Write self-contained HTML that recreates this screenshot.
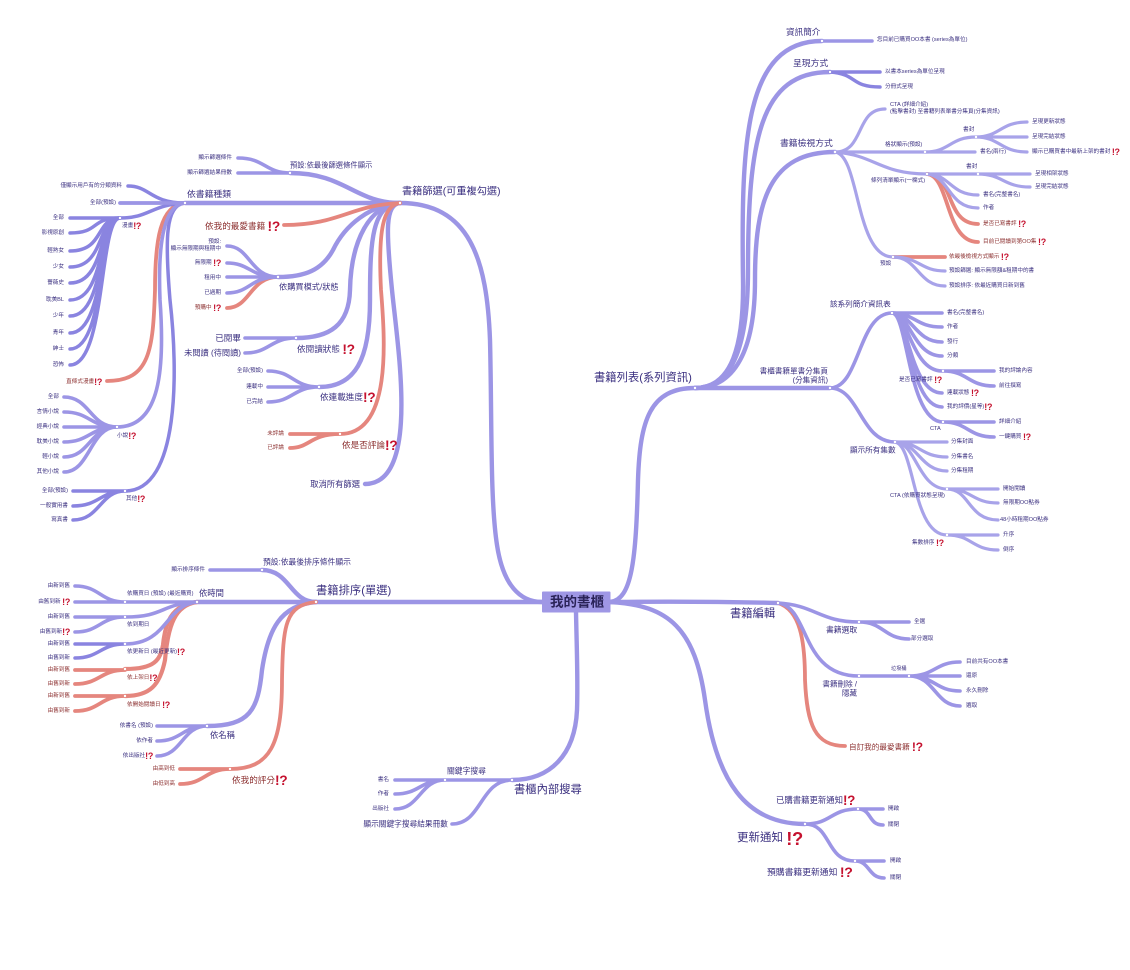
<!DOCTYPE html>
<html><head><meta charset="utf-8"><style>
html,body{margin:0;padding:0;background:#fff;width:1130px;height:970px;overflow:hidden}
svg{display:block;filter:blur(0.35px)}
text{font-family:"Liberation Sans","Noto Sans CJK TC",sans-serif;fill:#3b3080;dominant-baseline:central}
.a{font-size:5.6px}.b{font-size:7.6px}.c{font-size:8.6px}.d{font-size:11.3px}
.e{text-anchor:end}
.r{fill:#8c3030}
.q{fill:#c5122f;font-weight:bold;font-size:160%;letter-spacing:-0.3px}
path{fill:none;stroke-linecap:round}
.m path{stroke:#9c95e5;stroke-width:4.4}
.n path{stroke:#9c95e5;stroke-width:3.6}
.l path{stroke:#a8a3e9;stroke-width:3.2}
.k path{stroke:#8a84e0;stroke-width:3.5}
.x path{stroke:#e5867e;stroke-width:3.8}
circle{fill:#fff}
</style></head><body>
<svg width="1130" height="970" viewBox="0 0 1130 970" xmlns="http://www.w3.org/2000/svg">
<rect width="1130" height="970" fill="#fff"/>
<g class="m">
<path d="M400 203C470 203 487 260 490 340C492 420 490 500 497 545C503 585 520 602 542 602"/>
<path d="M316 602H542"/>
<path d="M610 602C632 600 636 560 638 480C640 420 650 388 695 388"/>
<path d="M610 602Q700 601 778 603"/>
<path d="M610 602C670 605 695 630 705 700C716 780 745 824 805 824"/>
<path d="M576 612C577 660 578 680 577 710C575 755 550 780 512 780"/>
<path d="M695 388C732 388 744 345 743 280C741 140 745 41 822 41"/>
<path d="M695 388C735 388 748 340 748 270C748 140 760 72 830 72"/>
<path d="M695 388C735 388 755 350 755 280C755 200 770 152 835 152"/>
<path d="M695 388H830"/>
<path d="M400 203C355 203 345 173 290 173"/>
<path d="M400 203H185"/>
<path d="M400 203C370 205 345 225 333 250C322 270 305 277 278 277"/>
<path d="M400 203C370 205 351 240 350 290C349 325 330 338 296 338"/>
<path d="M400 203C372 205 370 240 370 300C370 360 355 387 319 387"/>
<path d="M400 203C385 205 386 230 392 290C398 350 420 484 365 484"/>
<path d="M316 602C290 602 290 570 262 570"/>
<path d="M316 602H197"/>
<path d="M316 602C280 605 268 630 262 670C258 710 250 726 207 726"/>
</g>
<g class="x">
<path d="M400 203C350 205 340 225 284 225"/>
<path d="M400 203C383 205 378 230 381 290C385 340 392 434 340 434"/>
<path d="M185 203C160 205 155 240 155 290C153 350 150 381 107 381"/>
<path d="M316 602C285 605 283 625 282 680C282 745 270 769 230 769"/>
<path d="M197 602C170 605 165 625 163 645C160 660 155 669 125 669" style="stroke-width:4.2"/>
<path d="M197 602C175 605 168 625 165 660C160 685 150 696 125 696" style="stroke-width:4.2"/>
<path d="M778 603C800 610 805 640 805 680C807 725 815 746 845 746"/>
<path d="M227 308C250 308 250 277 278 277"/>
<path d="M290 434H340M290 448C310 448 310 434 340 434"/>
<path d="M75 670H125M75 684C100 684 100 670 125 670"/>
<path d="M75 696H125M75 711C100 711 100 696 125 696"/>
<path d="M180 769H230M180 784C205 784 205 769 230 769"/>
<path d="M927 174C955 176 945 224 978 224"/>
<path d="M927 174C950 176 945 242 978 242"/>
<path d="M893 257H945"/>
</g>
<g class="k">
<path d="M185 203C165 205 165 240 170 300C178 370 180 491 125 491"/>
<path d="M185 203C150 203 150 186 128 186"/>
<path d="M185 203H120"/>
<path d="M185 203C150 205 150 218 120 218"/>
<path d="M120 218H70"/>
<path d="M120 218C90 218 100 233 70 233"/>
<path d="M120 218C95 218 105 251 70 251"/>
<path d="M120 218C97 218 105 267 70 267"/>
<path d="M120 218C98 218 106 283 70 283"/>
<path d="M120 218C98 218 106 300 70 300"/>
<path d="M120 218C98 218 106 316 70 316"/>
<path d="M120 218C99 218 106 333 70 333"/>
<path d="M120 218C99 218 106 349 70 349"/>
<path d="M120 218C99 218 106 365 70 365"/>
<path d="M125 491H73M125 491C100 491 100 506 73 506M125 491C100 491 100 520 73 520"/>
<path d="M830 72C858 74 850 87 880 87M830 72H880"/>
<path d="M75 644H125M75 658C100 658 100 644 125 644"/>
</g>
<g class="n">
<path d="M185 203C162 205 158 250 160 300C165 370 160 427 117 427"/>
<path d="M117 427C90 427 90 397 64 397"/>
<path d="M117 427C90 427 90 412 64 412"/>
<path d="M117 427H64"/>
<path d="M117 427C90 427 90 442 64 442"/>
<path d="M117 427C90 427 90 457 64 457"/>
<path d="M117 427C90 427 90 472 64 472"/>
<path d="M185 203H120"/>
<path d="M290 173C265 173 265 158 238 158M290 173H238"/>
<path d="M278 277C250 277 250 246 227 246"/>
<path d="M278 277C250 277 250 263 227 263"/>
<path d="M278 277H227"/>
<path d="M278 277C250 277 250 293 227 293"/>
<path d="M296 338H245M296 338C270 338 270 353 245 353"/>
<path d="M319 387C293 387 293 371 268 371M319 387H268M319 387C293 387 293 402 268 402"/>
<path d="M262 570H210"/>
<path d="M197 602C160 604 165 617 125 617"/>
<path d="M197 602H125"/>
<path d="M197 602C165 605 168 644 125 644"/>
<path d="M125 602H75M125 602C100 602 100 586 75 586"/>
<path d="M125 617H75M125 617C100 617 100 632 75 632"/>
<path d="M207 726H157M207 726C182 726 182 741 157 741M207 726C182 726 182 756 157 756"/>
<path d="M512 780H445M512 780C480 780 482 824 452 824"/>
<path d="M445 780H395M445 780C420 780 420 794 395 794M445 780C420 780 420 809 395 809"/>
<path d="M822 41H872"/>
<path d="M830 388C860 388 858 313 892 313"/>
<path d="M830 388C860 388 860 442 895 442"/>
<path d="M892 313H942"/>
<path d="M892 313C915 313 915 327 942 327"/>
<path d="M892 313C912 313 915 342 942 342"/>
<path d="M892 313C910 313 913 356 942 356"/>
<path d="M892 313C908 313 912 371 942 371"/>
<path d="M892 313C908 313 910 393 942 393"/>
<path d="M892 313C908 313 910 407 942 407"/>
<path d="M892 313C908 313 908 422 943 422"/>
<path d="M943 371H994M943 371C968 371 968 386 994 386"/>
<path d="M943 422H994M943 422C968 422 968 437 994 437"/>
<path d="M778 603C815 605 820 622 859 622"/>
<path d="M778 603C810 607 800 676 859 676"/>
<path d="M859 622H909M859 622C884 622 884 639 909 639"/>
<path d="M859 676H909"/>
<path d="M909 676C935 676 935 662 960 662M909 676H960M909 676C935 676 935 691 960 691M909 676C935 676 935 706 960 706"/>
<path d="M805 824C832 824 830 809 858 809"/>
<path d="M805 824C832 824 825 861 855 861"/>
<path d="M858 809H883M858 809C872 809 868 825 883 825"/>
<path d="M855 861H884M855 861C870 861 868 878 884 878"/>
</g>
<g class="l">
<path d="M835 152C865 152 855 109 885 109"/>
<path d="M835 152H925"/>
<path d="M835 152C875 155 880 174 927 174"/>
<path d="M835 152C860 155 855 257 893 257"/>
<path d="M925 152C950 152 950 137 976 137"/>
<path d="M925 152H975"/>
<path d="M976 137C1000 137 1000 122 1027 122M976 137H1027M976 137C1000 137 1000 152 1027 152"/>
<path d="M927 174H978"/>
<path d="M927 174C950 174 950 195 978 195"/>
<path d="M927 174C950 176 948 208 978 208"/>
<path d="M978 174H1030M978 174C1003 174 1003 187 1030 187"/>
<path d="M893 257C920 257 920 271 945 271"/>
<path d="M893 257C918 257 918 286 945 286"/>
<path d="M895 442H947"/>
<path d="M895 442C920 442 920 457 947 457"/>
<path d="M895 442C918 442 920 471 947 471"/>
<path d="M895 442C916 442 918 489 947 489"/>
<path d="M895 442C915 445 912 535 947 535"/>
<path d="M947 489H998M947 489C972 489 972 503 998 503M947 489C970 489 968 520 998 520"/>
<path d="M947 535H998M947 535C972 535 972 550 998 550"/>
</g>
<g>
<circle cx="400" cy="203" r="1.2"/><circle cx="185" cy="203" r="1.2"/><circle cx="120" cy="218" r="1.2"/><circle cx="117" cy="427" r="1.2"/><circle cx="125" cy="491" r="1.2"/><circle cx="290" cy="173" r="1.2"/><circle cx="278" cy="277" r="1.2"/><circle cx="296" cy="338" r="1.2"/><circle cx="319" cy="387" r="1.2"/><circle cx="340" cy="434" r="1.2"/><circle cx="262" cy="570" r="1.2"/><circle cx="197" cy="602" r="1.2"/><circle cx="125" cy="602" r="1.2"/><circle cx="125" cy="617" r="1.2"/><circle cx="125" cy="644" r="1.2"/><circle cx="125" cy="669" r="1.2"/><circle cx="125" cy="696" r="1.2"/><circle cx="207" cy="726" r="1.2"/><circle cx="230" cy="769" r="1.2"/><circle cx="316" cy="602" r="1.2"/><circle cx="445" cy="780" r="1.2"/><circle cx="512" cy="780" r="1.2"/><circle cx="695" cy="388" r="1.2"/><circle cx="822" cy="41" r="1.2"/><circle cx="830" cy="72" r="1.2"/><circle cx="835" cy="152" r="1.2"/><circle cx="830" cy="388" r="1.2"/><circle cx="925" cy="152" r="1.2"/><circle cx="976" cy="137" r="1.2"/><circle cx="927" cy="174" r="1.2"/><circle cx="978" cy="174" r="1.2"/><circle cx="893" cy="257" r="1.2"/><circle cx="892" cy="313" r="1.2"/><circle cx="943" cy="371" r="1.2"/><circle cx="943" cy="422" r="1.2"/><circle cx="895" cy="442" r="1.2"/><circle cx="947" cy="489" r="1.2"/><circle cx="947" cy="535" r="1.2"/><circle cx="778" cy="603" r="1.2"/><circle cx="859" cy="622" r="1.2"/><circle cx="859" cy="676" r="1.2"/><circle cx="909" cy="676" r="1.2"/><circle cx="805" cy="824" r="1.2"/><circle cx="858" cy="809" r="1.2"/><circle cx="855" cy="861" r="1.2"/>
</g>
<rect x="542" y="591.5" width="68.5" height="21" fill="#9f97e5" rx="1"/>
<text x="577" y="602" text-anchor="middle" font-weight="bold" style="font-size:13.5px;fill:#2a2358">我的書櫃</text>

<text class="d" x="402" y="192" style="font-size:10.2px">書籍篩選(可重複勾選)</text>
<text class="d" x="316" y="591" style="font-size:11.3px">書籍排序(單選)</text>
<text class="d" x="594" y="378" style="font-size:11.3px">書籍列表(系列資訊)</text>
<text class="d" x="730" y="614">書籍編輯</text>
<text class="d" x="514" y="790">書櫃內部搜尋</text>
<text class="d" x="737" y="838" style="font-size:11.5px">更新通知 <tspan class="q">!?</tspan></text>

<text class="b" x="290" y="165" style="font-size:7.3px">預設:依最後篩選條件顯示</text>
<text class="a e" x="232" y="158">顯示篩選條件</text>
<text class="a e" x="232" y="173">顯示篩選結果冊數</text>
<text class="c" x="187" y="194" style="font-size:8.8px">依書籍種類</text>
<text class="a e" x="122" y="186">僅顯示用戶有的分類資料</text>
<text class="a e" x="116" y="203">全部(預設)</text>
<text class="a" x="122" y="226">漫畫<tspan class="q">!?</tspan></text>
<text class="a e" x="64" y="218">全部</text>
<text class="a e" x="64" y="233">影視原創</text>
<text class="a e" x="64" y="251">輕熟女</text>
<text class="a e" x="64" y="267">少女</text>
<text class="a e" x="64" y="283">薔薇史</text>
<text class="a e" x="64" y="300">耽美BL</text>
<text class="a e" x="64" y="316">少年</text>
<text class="a e" x="64" y="333">青年</text>
<text class="a e" x="64" y="349">紳士</text>
<text class="a e" x="64" y="365">恐怖</text>
<text class="a e r" x="102" y="382">直條式漫畫<tspan class="q">!?</tspan></text>
<text class="a" x="117" y="436">小說<tspan class="q">!?</tspan></text>
<text class="a e" x="59" y="397">全部</text>
<text class="a e" x="59" y="412">言情小說</text>
<text class="a e" x="59" y="427">經典小說</text>
<text class="a e" x="59" y="442">耽美小說</text>
<text class="a e" x="59" y="457">輕小說</text>
<text class="a e" x="59" y="472">其他小說</text>
<text class="a" x="126" y="499">其他<tspan class="q">!?</tspan></text>
<text class="a e" x="68" y="491">全部(預設)</text>
<text class="a e" x="68" y="506">一般實用書</text>
<text class="a e" x="68" y="520">寫真書</text>
<text class="c r" x="205" y="226">依我的最愛書籍 <tspan class="q">!?</tspan></text>
<text class="a e" x="221" y="242">預設:</text>
<text class="a e" x="221" y="249">顯示無限期與租期中</text>
<text class="a e" x="221" y="263">無限期 <tspan class="q">!?</tspan></text>
<text class="a e" x="221" y="278">租用中</text>
<text class="a e" x="221" y="293">已過期</text>
<text class="a e r" x="221" y="308">預購中 <tspan class="q">!?</tspan></text>
<text class="c" x="279" y="287" style="font-size:8.2px">依購買模式/狀態</text>
<text class="c" x="297" y="349">依閱讀狀態 <tspan class="q">!?</tspan></text>
<text class="c e" x="241" y="338" style="font-size:8.6px">已閱畢</text>
<text class="c e" x="241" y="353" style="font-size:8.2px">未閱讀 (待閱讀)</text>
<text class="c" x="320" y="397">依連載進度<tspan class="q">!?</tspan></text>
<text class="a e" x="263" y="371">全部(預設)</text>
<text class="a e" x="263" y="387">連載中</text>
<text class="a e" x="263" y="402">已完結</text>
<text class="c r" x="342" y="445">依是否評論<tspan class="q">!?</tspan></text>
<text class="a e r" x="284" y="434">未評論</text>
<text class="a e r" x="284" y="448">已評論</text>
<text class="c e" x="360" y="484" style="font-size:8.3px">取消所有篩選</text>

<text class="b" x="263" y="562" style="font-size:7.8px">預設:依最後排序條件顯示</text>
<text class="a e" x="205" y="570">顯示排序條件</text>
<text class="c" x="199" y="593" style="font-size:8.3px">依時間</text>
<text class="a" x="127" y="594">依購買日 (預設) (最近購買)</text>
<text class="a e" x="70" y="586">由新到舊</text>
<text class="a e" x="70" y="602">由舊到新 <tspan class="q">!?</tspan></text>
<text class="a" x="127" y="625">依到期日</text>
<text class="a e" x="70" y="617">由新到舊</text>
<text class="a e" x="70" y="632">由舊到新<tspan class="q">!?</tspan></text>
<text class="a" x="127" y="652">依更新日 (最近更新)<tspan class="q">!?</tspan></text>
<text class="a e" x="70" y="644">由新到舊</text>
<text class="a e" x="70" y="658">由舊到新</text>
<text class="a r" x="127" y="678">依上架日<tspan class="q">!?</tspan></text>
<text class="a e r" x="70" y="670">由新到舊</text>
<text class="a e r" x="70" y="684">由舊到新</text>
<text class="a r" x="127" y="705">依開始閱讀日 <tspan class="q">!?</tspan></text>
<text class="a e r" x="70" y="696">由新到舊</text>
<text class="a e r" x="70" y="711">由舊到新</text>
<text class="c" x="210" y="735" style="font-size:8.3px">依名稱</text>
<text class="a e" x="153" y="726">依書名 (預設)</text>
<text class="a e" x="153" y="741">依作者</text>
<text class="a e" x="153" y="756">依出版社<tspan class="q">!?</tspan></text>
<text class="c r" x="232" y="780">依我的評分<tspan class="q">!?</tspan></text>
<text class="a e r" x="175" y="769">由高到低</text>
<text class="a e r" x="175" y="784">由低到高</text>

<text class="b" x="447" y="771" style="font-size:7.8px">關鍵字搜尋</text>
<text class="a e" x="389" y="780">書名</text>
<text class="a e" x="389" y="794">作者</text>
<text class="a e" x="389" y="809">出版社</text>
<text class="b e" x="448" y="824" style="font-size:7.7px">顯示關鍵字搜尋結果冊數</text>

<text class="c" x="786" y="32">資訊簡介</text>
<text class="a" x="877" y="40">您目前已購買OO本書 (series為單位)</text>
<text class="c" x="793" y="63" style="font-size:8.8px">呈現方式</text>
<text class="a" x="885" y="72">以書本series為單位呈現</text>
<text class="a" x="885" y="87">分冊式呈現</text>
<text class="c" x="780" y="143" style="font-size:8.8px">書籍檢視方式</text>
<text class="a" x="890" y="105">CTA (詳細介紹)</text>
<text class="a" x="890" y="112">(點擊書封) 至書籍列表單書分集頁(分集資訊)</text>
<text class="a" x="885" y="145">格狀顯示(預設)</text>
<text class="a" x="963" y="130">書封</text>
<text class="a" x="1032" y="122">呈現更新狀態</text>
<text class="a" x="1032" y="137">呈現完結狀態</text>
<text class="a" x="1032" y="152">顯示已購買書中最新上架的書封 <tspan class="q">!?</tspan></text>
<text class="a" x="980" y="152">書名(兩行)</text>
<text class="a" x="871" y="181">條列清單顯示(一欄式)</text>
<text class="a" x="966" y="167">書封</text>
<text class="a" x="1035" y="174">呈現相架狀態</text>
<text class="a" x="1035" y="187">呈現完結狀態</text>
<text class="a" x="983" y="195">書名(完整書名)</text>
<text class="a" x="983" y="208">作者</text>
<text class="a r" x="983" y="224">是否已寫書評 <tspan class="q">!?</tspan></text>
<text class="a r" x="983" y="242">目前已閱讀到第OO集 <tspan class="q">!?</tspan></text>
<text class="a" x="880" y="264">預設</text>
<text class="a r" x="949" y="257">依最後檢視方式顯示 <tspan class="q">!?</tspan></text>
<text class="a" x="949" y="271">預設篩選: 顯示無限額&amp;租期中的書</text>
<text class="a" x="949" y="286">預設排序: 依最近購買日新到舊</text>

<text class="b e" x="828" y="371">書櫃書籍單書分集頁</text>
<text class="b e" x="828" y="380">(分集資訊)</text>
<text class="b" x="830" y="304">該系列簡介資訊表</text>
<text class="a" x="947" y="313">書名(完整書名)</text>
<text class="a" x="947" y="327">作者</text>
<text class="a" x="947" y="342">發行</text>
<text class="a" x="947" y="356">分類</text>
<text class="a" x="899" y="380">是否已寫書評 <tspan class="q">!?</tspan></text>
<text class="a" x="999" y="371">我的評論內容</text>
<text class="a" x="999" y="386">前往撰寫</text>
<text class="a" x="947" y="393">連載狀態 <tspan class="q">!?</tspan></text>
<text class="a" x="947" y="407">我的評價(星等)<tspan class="q">!?</tspan></text>
<text class="a" x="930" y="429">CTA</text>
<text class="a" x="999" y="422">詳細介紹</text>
<text class="a" x="999" y="437">一鍵購買 <tspan class="q">!?</tspan></text>
<text class="b" x="850" y="450">顯示所有集數</text>
<text class="a" x="951" y="442">分集封面</text>
<text class="a" x="951" y="457">分集書名</text>
<text class="a" x="951" y="471">分集租期</text>
<text class="a" x="890" y="496">CTA (依購買狀態呈現)</text>
<text class="a" x="1003" y="489">開始閱讀</text>
<text class="a" x="1003" y="503">無限期OO點券</text>
<text class="a" x="1000" y="520">48小時租期OO點券</text>
<text class="a" x="912" y="543">集數排序 <tspan class="q">!?</tspan></text>
<text class="a" x="1003" y="535">升序</text>
<text class="a" x="1003" y="550">倒序</text>

<text class="b" x="826" y="630" style="font-size:7.8px">書籍選取</text>
<text class="a" x="914" y="622">全選</text>
<text class="a" x="911" y="639">部分選取</text>
<text class="b e" x="857" y="684">書籍刪除 /</text>
<text class="b e" x="857" y="693">隱藏</text>
<text class="a" x="891" y="669" style="font-size:5.2px">垃圾桶</text>
<text class="a" x="966" y="662">目前共有OO本書</text>
<text class="a" x="966" y="676">還原</text>
<text class="a" x="966" y="691">永久刪除</text>
<text class="a" x="966" y="706">選取</text>
<text class="b r" x="849" y="747">自訂我的最愛書籍 <tspan class="q">!?</tspan></text>

<text class="c" x="776" y="800" style="font-size:8.4px">已購書籍更新通知<tspan class="q">!?</tspan></text>
<text class="c" x="767" y="872" style="font-size:8.8px">預購書籍更新通知 <tspan class="q">!?</tspan></text>
<text class="a" x="888" y="809">開啟</text>
<text class="a" x="888" y="825">關閉</text>
<text class="a" x="890" y="861">開啟</text>
<text class="a" x="890" y="878">關閉</text>
</svg>
</body></html>
